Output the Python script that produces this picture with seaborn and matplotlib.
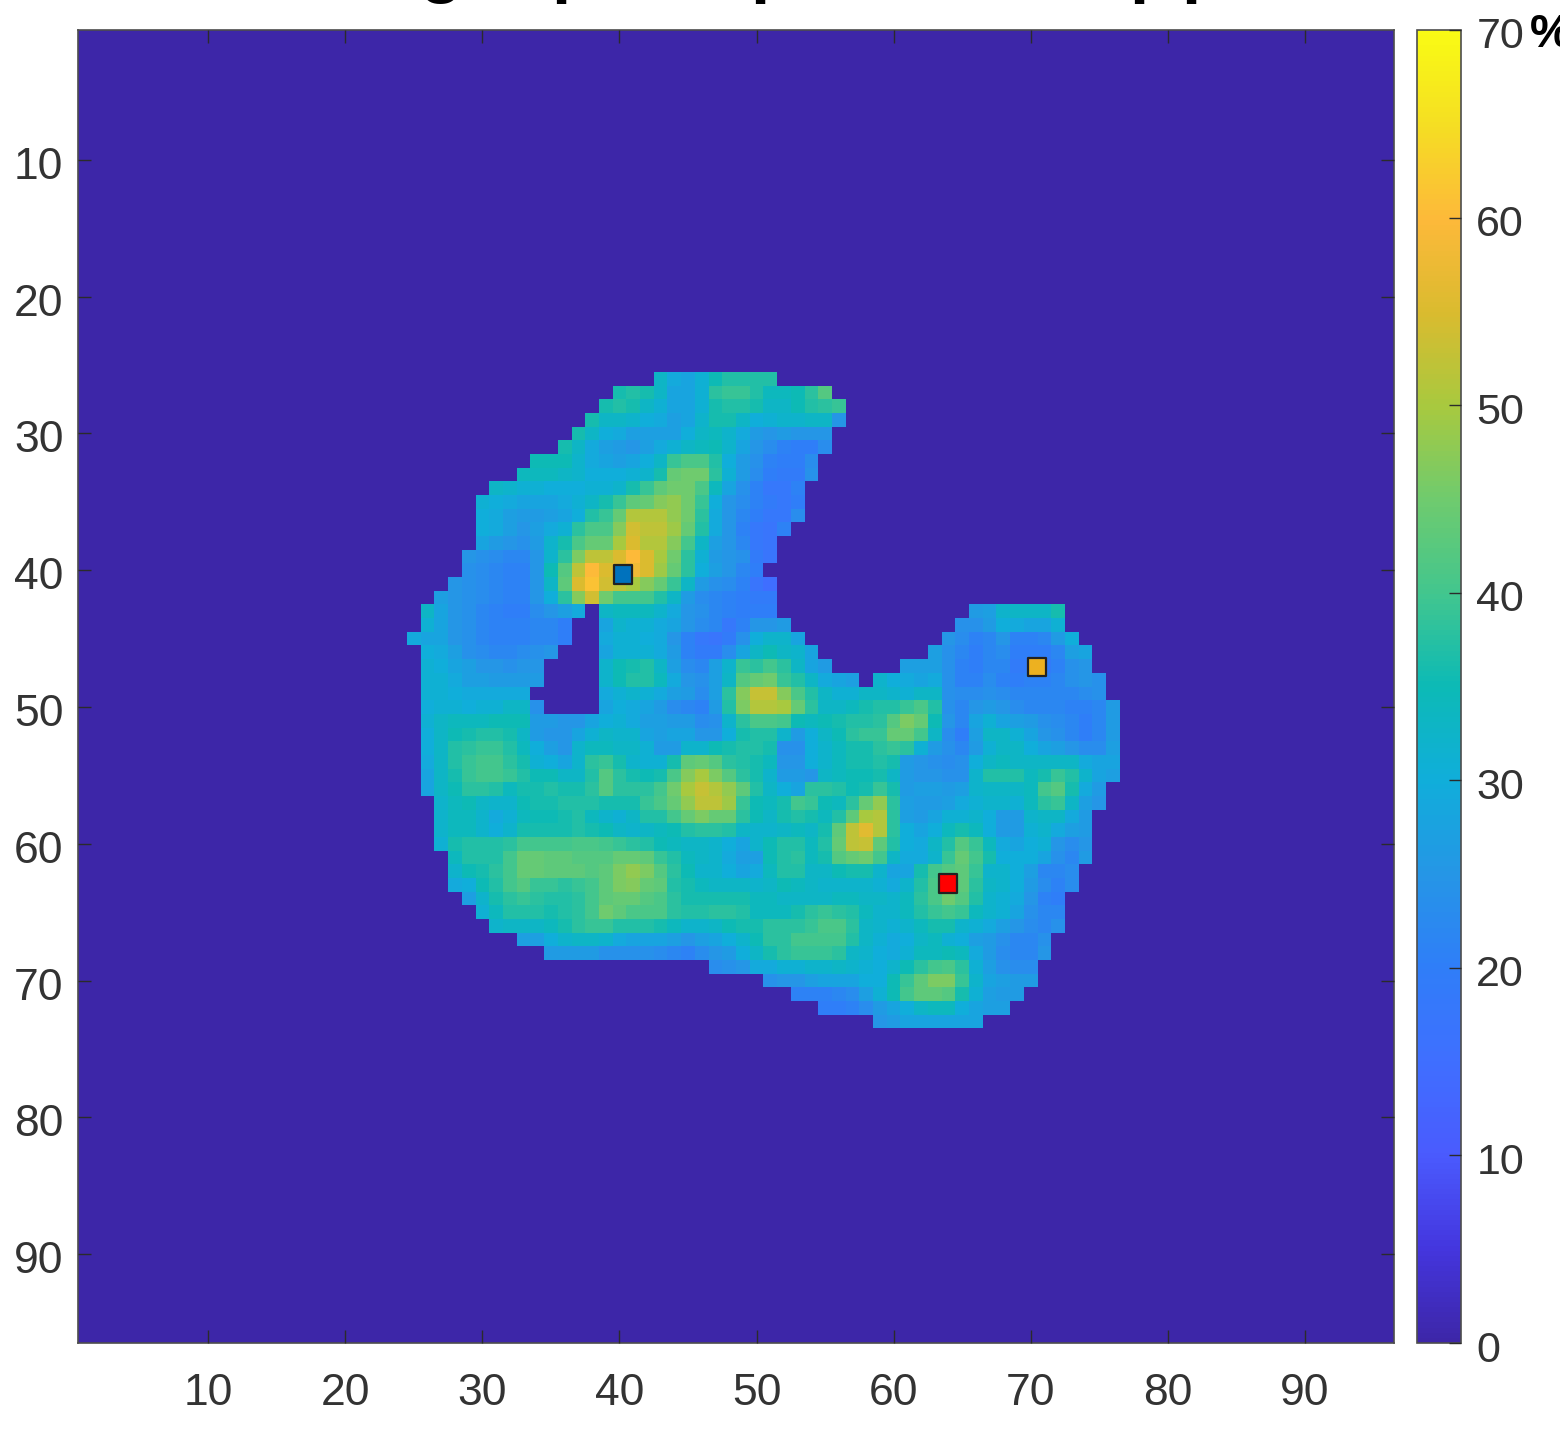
import matplotlib.pyplot as plt
import numpy as np
import seaborn as sns
from matplotlib.colors import LinearSegmentedColormap
from matplotlib.transforms import ScaledTranslation

# Map values in %, one list per image row, starting at the column in row_first_col
row26 = [33, 29, 28, 31, 35, 37, 37, 37, 37]
row27 = [36, 37, 36, 33, 28, 28, 31, 38, 39, 39, 37, 34, 34, 35, 38, 42]
row28 = [36, 37, 36, 33, 31, 28, 28, 31, 36, 37, 37, 36, 33, 33, 35, 37, 38, 39]
row29 = [36, 33, 33, 32, 30, 29, 27, 28, 32, 36, 36, 33, 30, 31, 32, 32, 33, 33, 25]
row30 = [36, 33, 30, 29, 27, 27, 27, 27, 30, 33, 34, 32, 29, 26, 25, 26, 25, 25, 25]
row31 = [36, 33, 29, 27, 26, 25, 27, 29, 31, 33, 34, 35, 32, 28, 25, 23, 21, 20, 20, 23]
row32 = [35, 35, 35, 32, 29, 28, 27, 28, 30, 33, 39, 41, 41, 37, 30, 26, 24, 21, 20, 20, 23]
row33 = [34, 34, 34, 33, 32, 30, 30, 30, 31, 32, 36, 44, 45, 45, 38, 31, 26, 23, 20, 19, 19, 24]
row34 = [33, 32, 31, 31, 30, 30, 30, 31, 31, 32, 36, 39, 43, 45, 45, 41, 34, 28, 24, 21, 18, 18, 21]
row35 = [31, 30, 29, 28, 28, 28, 29, 31, 33, 36, 39, 43, 44, 47, 48, 45, 39, 30, 25, 23, 21, 19, 18, 20]
row36 = [30, 29, 27, 26, 26, 27, 28, 30, 37, 39, 44, 51, 51, 51, 48, 45, 38, 29, 25, 22, 20, 18, 18, 23]
row37 = [30, 29, 27, 25, 27, 29, 31, 38, 41, 41, 47, 54, 52, 52, 49, 44, 37, 29, 25, 21, 18, 17, 21]
row38 = [28, 26, 25, 24, 26, 32, 36, 41, 44, 44, 50, 55, 51, 51, 47, 40, 33, 27, 25, 22, 18, 17]
row39 = [25, 24, 23, 22, 22, 25, 32, 38, 46, 52, 52, 55, 60, 55, 50, 45, 38, 31, 26, 25, 24, 19, 17]
row40 = [24, 23, 22, 21, 21, 25, 35, 42, 52, 60, 55, 56, 58, 55, 49, 44, 38, 30, 27, 25, 22, 20, 0]
row41 = [25, 24, 23, 22, 21, 21, 25, 33, 43, 55, 61, 54, 52, 50, 47, 44, 39, 33, 26, 24, 23, 21, 17, 15]
row42 = [27, 25, 24, 23, 22, 21, 21, 25, 30, 38, 47, 54, 45, 40, 40, 40, 37, 33, 26, 23, 22, 21, 20, 19, 19]
row43 = [33, 28, 25, 24, 22, 21, 20, 20, 23, 25, 27, 29, 0, 33, 34, 34, 34, 32, 29, 25, 24, 22, 21, 20, 20, 20]
row44 = [31, 28, 25, 24, 22, 21, 21, 21, 22, 22, 20, 0, 0, 28, 32, 31, 31, 29, 28, 25, 23, 22, 18, 21, 25, 25, 26]
row45 = [29, 28, 28, 25, 24, 22, 21, 21, 21, 22, 22, 20, 0, 0, 29, 31, 31, 30, 29, 25, 21, 18, 17, 19, 24, 30, 32, 32, 28]
row46 = [30, 29, 27, 24, 23, 22, 22, 23, 24, 25, 0, 0, 0, 28, 31, 31, 31, 29, 26, 21, 19, 19, 23, 28, 33, 35, 33, 32, 28]
row47 = [31, 30, 28, 27, 25, 25, 24, 25, 25, 0, 0, 0, 0, 32, 35, 36, 37, 33, 27, 23, 22, 27, 32, 39, 38, 40, 38, 33, 28, 26]
row48 = [31, 31, 29, 27, 27, 26, 26, 26, 26, 0, 0, 0, 0, 32, 35, 37, 37, 34, 29, 25, 24, 27, 33, 42, 44, 45, 39, 37, 33, 29, 28, 27, 0,
         32, 30, 29, 28, 29, 24, 21, 21, 23, 21, 20, 21, 21, 22, 24, 25, 24]
row49 = [31, 31, 30, 29, 29, 29, 29, 29, 0, 0, 0, 0, 0, 29, 31, 32, 31, 29, 27, 26, 23, 27, 38, 47, 53, 53, 47, 41, 37, 33, 31, 31, 33,
         33, 32, 31, 33, 33, 24, 23, 23, 24, 23, 22, 22, 22, 22, 22, 23, 24]
row50 = [30, 31, 31, 30, 31, 31, 33, 33, 24, 0, 0, 0, 0, 28, 30, 29, 28, 26, 23, 22, 21, 26, 37, 46, 51, 51, 50, 44, 38, 33, 33, 34, 36,
         37, 37, 39, 41, 37, 24, 22, 25, 26, 25, 23, 22, 22, 22, 21, 21, 22, 26]
row51 = [31, 33, 34, 34, 34, 35, 35, 35, 26, 26, 25, 25, 28, 30, 31, 29, 27, 27, 26, 26, 23, 24, 32, 38, 41, 41,
         40, 35, 34, 35, 36, 37, 37, 38, 42, 46, 44, 35, 25, 22, 28, 31, 28, 27, 26, 24, 23, 22, 20, 22, 26]
row52 = [30, 33, 35, 36, 37, 37, 36, 33, 26, 25, 25, 28, 31, 33, 32, 32, 28, 27, 28, 28, 25, 25, 30, 36, 37, 37,
         32, 26, 30, 33, 35, 38, 39, 39, 44, 44, 40, 33, 23, 20, 27, 33, 33, 31, 28, 25, 24, 22, 20, 22, 26]
row53 = [30, 33, 37, 38, 39, 39, 37, 34, 30, 27, 25, 32, 34, 34, 33, 33, 31, 26, 26, 32, 32, 35, 36, 37, 37, 36,
         24, 24, 30, 32, 34, 36, 36, 38, 39, 38, 31, 26, 24, 22, 26, 31, 33, 33, 30, 28, 27, 25, 23, 23, 27]
row54 = [29, 33, 37, 39, 40, 40, 38, 36, 31, 30, 28, 32, 38, 39, 36, 32, 31, 31, 36, 43, 44, 42, 38, 37, 36, 34,
         25, 25, 30, 32, 34, 36, 36, 37, 36, 26, 25, 24, 23, 24, 30, 33, 34, 33, 33, 33, 33, 33, 29, 28, 28]
row55 = [28, 33, 36, 39, 40, 40, 39, 37, 35, 35, 33, 33, 37, 42, 38, 36, 35, 36, 41, 47, 50, 46, 42, 38, 36, 32,
         26, 26, 25, 33, 34, 35, 35, 36, 33, 26, 25, 25, 24, 24, 32, 37, 37, 37, 34, 36, 39, 37, 32, 28, 27]
row56 = [28, 33, 35, 38, 38, 37, 34, 36, 36, 37, 36, 36, 38, 42, 38, 38, 38, 40, 45, 50, 53, 51, 48, 43, 37, 33,
         30, 28, 38, 38, 37, 35, 36, 39, 36, 26, 27, 27, 26, 27, 32, 33, 33, 33, 34, 40, 42, 36, 29, 26]
row57 = [32, 34, 35, 33, 32, 32, 35, 36, 36, 37, 37, 37, 36, 36, 36, 39, 41, 44, 48, 52, 52, 49, 39, 35, 34,
         36, 40, 39, 35, 34, 38, 44, 48, 38, 27, 26, 26, 27, 29, 31, 32, 32, 31, 34, 38, 39, 33, 27, 25]
row58 = [32, 34, 34, 32, 29, 31, 34, 35, 35, 36, 37, 34, 32, 31, 33, 37, 37, 40, 44, 46, 44, 44, 38, 35, 33,
         36, 37, 36, 34, 37, 43, 50, 51, 38, 27, 26, 28, 31, 31, 32, 30, 26, 26, 32, 33, 33, 29, 26]
row59 = [32, 34, 34, 32, 30, 32, 36, 36, 36, 36, 37, 36, 35, 33, 32, 33, 34, 35, 37, 38, 38, 37, 33, 32, 32,
         33, 34, 33, 36, 43, 52, 56, 51, 38, 30, 28, 30, 34, 36, 34, 30, 26, 26, 31, 32, 29, 27, 26]
row60 = [31, 36, 37, 37, 37, 38, 40, 40, 40, 40, 41, 41, 40, 39, 38, 37, 35, 34, 33, 33, 32, 30, 28, 32, 35,
         37, 37, 34, 37, 44, 52, 53, 43, 37, 30, 29, 33, 37, 42, 39, 34, 29, 28, 30, 31, 25, 23, 25]
row61 = [34, 37, 37, 37, 40, 44, 44, 43, 43, 42, 42, 42, 44, 44, 43, 39, 37, 34, 33, 32, 29, 27, 27, 35,
         37, 38, 34, 36, 42, 44, 45, 40, 33, 29, 29, 32, 39, 44, 40, 36, 30, 30, 30, 28, 24, 22, 26]
row62 = [32, 35, 36, 38, 40, 44, 44, 43, 43, 43, 42, 43, 46, 48, 46, 42, 38, 35, 32, 32, 30, 28, 29, 34,
         37, 37, 33, 33, 35, 36, 36, 32, 28, 28, 36, 40, 42, 43, 39, 32, 32, 30, 27, 22, 22, 23]
row63 = [29, 30, 35, 37, 40, 42, 39, 39, 38, 39, 40, 43, 46, 47, 44, 43, 37, 36, 34, 33, 33, 33, 32, 33,
         35, 34, 33, 32, 32, 32, 32, 31, 29, 32, 37, 41, 42, 43, 38, 33, 32, 30, 26, 23, 21, 23]
row64 = [27, 32, 36, 38, 39, 38, 37, 37, 38, 40, 43, 44, 44, 42, 41, 38, 36, 36, 36, 36, 36, 34, 34,
         33, 33, 33, 33, 34, 34, 33, 33, 32, 34, 38, 41, 45, 42, 37, 32, 31, 29, 25, 21, 20]
row65 = [31, 34, 37, 37, 37, 36, 37, 38, 40, 45, 43, 41, 41, 41, 38, 37, 37, 38, 38, 37, 34, 34,
         34, 36, 38, 39, 38, 37, 34, 32, 32, 34, 37, 39, 40, 39, 34, 32, 31, 28, 24, 22, 22]
row66 = [32, 33, 33, 33, 34, 36, 38, 39, 39, 37, 37, 37, 36, 34, 32, 32, 33, 35, 36, 36, 38,
         38, 38, 39, 41, 41, 38, 33, 32, 31, 32, 34, 36, 36, 32, 31, 29, 27, 25, 23, 22, 24]
row67 = [27, 27, 30, 32, 33, 33, 32, 29, 28, 28, 28, 27, 25, 27, 28, 30, 32, 35, 38,
         38, 40, 40, 40, 40, 37, 33, 31, 29, 30, 33, 34, 31, 30, 27, 26, 24, 22, 22, 24]
row68 = [26, 26, 26, 26, 24, 24, 24, 24, 23, 22, 21, 23, 25, 26, 30, 33, 36,
         38, 39, 39, 39, 38, 33, 32, 30, 29, 31, 34, 34, 35, 34, 29, 26, 23, 22, 22, 25]
row69 = [23, 24, 25, 29, 29, 31, 31, 32, 32, 33, 32, 31, 30, 32, 35, 38, 40, 41, 38, 31, 27, 24, 23, 23]
row70 = [24, 25, 25, 27, 28, 28, 28, 30, 30, 35, 39, 43, 46, 46, 39, 32, 28, 27, 26, 26]
row71 = [21, 21, 21, 22, 23, 27, 31, 35, 40, 43, 43, 42, 36, 31, 27, 26, 26]
row72 = [20, 20, 21, 23, 26, 28, 30, 33, 34, 34, 30, 28, 27, 27]
row73 = [25, 26, 28, 28, 28, 28, 28, 28]

row_first_col = [43, 40, 39, 38, 37, 36, 34, 33, 31, 30, 30, 30, 30, 29, 29, 28, 27, 26, 26, 25, 26, 26, 26, 26, 26,
                 26, 26, 26, 26, 26, 26, 27, 27, 27, 27, 28, 28, 28, 29, 30, 31, 33, 35, 47, 51, 53, 55, 59]

# Right lobe of rows 43-47, separated from the left part by the notch
row43_right = [26, 27, 32, 33, 33, 33, 36]
row44_right = [24, 24, 26, 30, 29, 28, 28, 31]
row45_right = [25, 23, 21, 22, 25, 21, 21, 22, 26, 30]
row46_right = [27, 24, 22, 20, 22, 23, 20, 20, 20, 22, 27, 28]
row47_right = [27, 27, 27, 24, 21, 20, 22, 22, 19, 19, 19, 21, 24, 25]
right_first_col = [66, 65, 64, 63, 61]

# Three measurement points
point_cols = [40.25, 70.45, 63.96]
point_rows = [40.3, 47.07, 62.9]
point_colors = ["#0072BD", "#EDB120", "#FF0000"]

axis_ticks = [10, 20, 30, 40, 50, 60, 70, 80, 90]
cbar_ticks = [0, 10, 20, 30, 40, 50, 60, 70]

# Parula-like colours at 0, 5, ... 70 %
cmap_colors = ["#3D26A8", "#4436DF", "#4A5BFE", "#3F6FFF", "#2F7EF8", "#2596E6", "#10AEDA", "#0CBAB6",
               "#42C68E", "#6FCB6E", "#A8C93F", "#DABB2F", "#FDB93A", "#F5DE23", "#F9FB14"]

# Title is cut off by the top edge: only these descenders are left
title_letters = ["g", "p", "p", "p", "p"]
title_x = [419, 551, 750, 1129, 1181]


def build_grid():
    grid = np.zeros((96, 96))
    rows = [row26, row27, row28, row29, row30, row31, row32, row33, row34, row35, row36, row37,
            row38, row39, row40, row41, row42, row43, row44, row45, row46, row47, row48, row49,
            row50, row51, row52, row53, row54, row55, row56, row57, row58, row59, row60, row61,
            row62, row63, row64, row65, row66, row67, row68, row69, row70, row71, row72, row73]
    for i, (values, first) in enumerate(zip(rows, row_first_col)):
        grid[25 + i, first - 1:first - 1 + len(values)] = values
    right_rows = [row43_right, row44_right, row45_right, row46_right, row47_right]
    for i, (values, first) in enumerate(zip(right_rows, right_first_col)):
        grid[42 + i, first - 1:first - 1 + len(values)] = values
    return grid


sns.set_theme(style="white")
plt.rcParams["font.family"] = ["Liberation Sans", "DejaVu Sans"]
# seaborn's style puts ticks under the mesh, here they sit on top of it
plt.rcParams["axes.axisbelow"] = False

W, H = 1560, 1440
dark = "#2b2b2b"
edge = "#4d4d4d"
fig = plt.figure(figsize=(W / 100, H / 100), dpi=100)
ax = fig.add_axes([78 / W, 1 - 1343 / H, 1316 / W, 1313 / H])
cax = fig.add_axes([1417 / W, 1 - 1343 / H, 44 / W, 1313 / H])

parula = LinearSegmentedColormap.from_list("parula_like", cmap_colors, N=256)
sns.heatmap(build_grid(), ax=ax, cbar_ax=cax, cmap=parula, vmin=0, vmax=70,
            xticklabels=False, yticklabels=False)
ax.set_axisbelow(False)
cax.set_axisbelow(False)

# heatmap cells are centred on n - 0.5
tick_pos = np.array(axis_ticks) - 0.5
ax.set_xticks(tick_pos, labels=axis_ticks)
ax.set_yticks(tick_pos, labels=axis_ticks, rotation=0)
ax.tick_params(direction="in", length=9.5, width=1, color=dark, labelcolor="#333333", labelsize=32,
               bottom=True, top=True, left=True, right=True)
ax.tick_params(axis="x", pad=21.5)
ax.tick_params(axis="y", pad=10.5)
for spine in ax.spines.values():
    spine.set_visible(True)
    spine.set_color(edge)
    spine.set_linewidth(1.2)

ax.scatter(np.array(point_cols) - 0.5, np.array(point_rows) - 0.5, marker="s", s=175,
           c=point_colors, edgecolors="#222222", linewidths=1.6, zorder=5)

cbar = ax.collections[0].colorbar
cbar.set_ticks(cbar_ticks, labels=cbar_ticks)
cax.tick_params(direction="in", length=9, width=1, color=dark, labelcolor="#333333", labelsize=31,
                left=False, right=True, pad=11)
cbar.outline.set_visible(True)
cbar.outline.set_edgecolor(edge)
cbar.outline.set_linewidth(1.2)

# MATLAB sets its labels a little lower than the tick
shift = ScaledTranslation(0, -3 / 100, fig.dpi_scale_trans)
for label in ax.get_yticklabels() + cax.get_yticklabels():
    label.set_transform(label.get_transform() + shift)

fig.text(1530 / W, 1 - 35 / H, "%", fontsize=34, fontweight="bold", color="black", va="center", ha="left")
for letter, x in zip(title_letters, title_x):
    fig.text(x / W, 1 + 10 / H, letter, fontsize=50, fontweight="bold", color="black", va="baseline", ha="left")

fig.savefig("out.png", dpi=100)
